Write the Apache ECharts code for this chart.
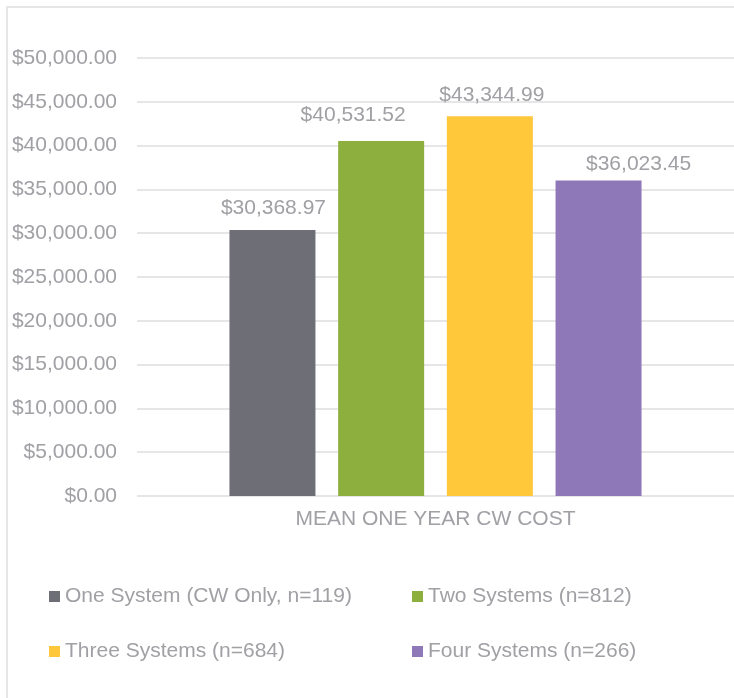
<!DOCTYPE html>
<html>
<head>
<meta charset="utf-8">
<script src="https://cdn.jsdelivr.net/npm/echarts@6/dist/echarts.min.js"></script>
<style>
  html, body { margin: 0; padding: 0; background: #fff; overflow: hidden; }
  #chart { width: 734px; height: 698px; }
</style>
</head>
<body>
<div id="chart"></div>
<script>
// data
var category = ['MEAN ONE YEAR CW COST'];
var seriesNames = ['One System (CW Only, n=119)', 'Two Systems (n=812)', 'Three Systems (n=684)', 'Four Systems (n=266)'];
var seriesValues = [30368.97, 40531.52, 43344.99, 36023.45];
var seriesColors = ['#6e6e77', '#8daf3e', '#ffc73a', '#8e78b8'];
var yTicks = [0, 5000, 10000, 15000, 20000, 25000, 30000, 35000, 40000, 45000, 50000];

var textColor = '#a0a0a5';
var fontFamily = '"Liberation Sans", Arial, sans-serif';
var fontSize = 21;

function money(v) {
    return '$' + v.toLocaleString('en-US', {minimumFractionDigits: 2, maximumFractionDigits: 2});
}

var chart = echarts.init(document.getElementById('chart'));

// legend positions, two columns and two rows
var legendPos = [[49, 586], [412, 586], [49, 641], [412, 641]];
// data labels sit where the original placed them
var labelDistance = [11.5, 15, 10.5, 5.5];
var labelShiftX = [1, -28, 2, 40];

var series = seriesNames.map(function (name, i) {
    return {
        name: name,
        type: 'bar',
        data: [seriesValues[i]],
        barWidth: 86,
        barGap: '26.4%',
        itemStyle: {color: seriesColors[i]},
        label: {
            show: true,
            position: 'top',
            distance: labelDistance[i],
            offset: [labelShiftX[i], 0],
            color: textColor,
            fontSize: fontSize,
            fontFamily: fontFamily,
            formatter: function (p) { return money(p.value); }
        }
    };
});

var option = {
    animation: false,
    textStyle: {fontFamily: fontFamily},
    graphic: [{
        type: 'rect',
        shape: {x: 7, y: 7, width: 1000, height: 1000},
        style: {fill: 'none', stroke: '#e6e6e6', lineWidth: 2}
    }],
    legend: seriesNames.map(function (name, i) {
        return {
            data: [name],
            left: legendPos[i][0],
            top: legendPos[i][1],
            padding: 0,
            icon: 'rect',
            itemWidth: 11,
            itemHeight: 11,
            itemGap: 5,
            textStyle: {color: textColor, fontSize: fontSize, fontFamily: fontFamily}
        };
    }),
    grid: {left: 137, right: -3, top: 58, bottom: 202},
    xAxis: {
        type: 'category',
        data: category,
        axisLine: {show: false},
        axisTick: {show: false},
        axisLabel: {color: textColor, fontSize: fontSize, margin: 13, fontFamily: fontFamily}
    },
    yAxis: {
        type: 'value',
        min: yTicks[0],
        max: yTicks[yTicks.length - 1],
        interval: 5000,
        axisLine: {show: false},
        axisTick: {show: false},
        splitLine: {lineStyle: {color: '#e6e6e6', width: 2}},
        axisLabel: {color: textColor, fontSize: fontSize, margin: 20, fontFamily: fontFamily, formatter: money}
    },
    series: series
};

chart.setOption(option);
</script>
</body>
</html>
